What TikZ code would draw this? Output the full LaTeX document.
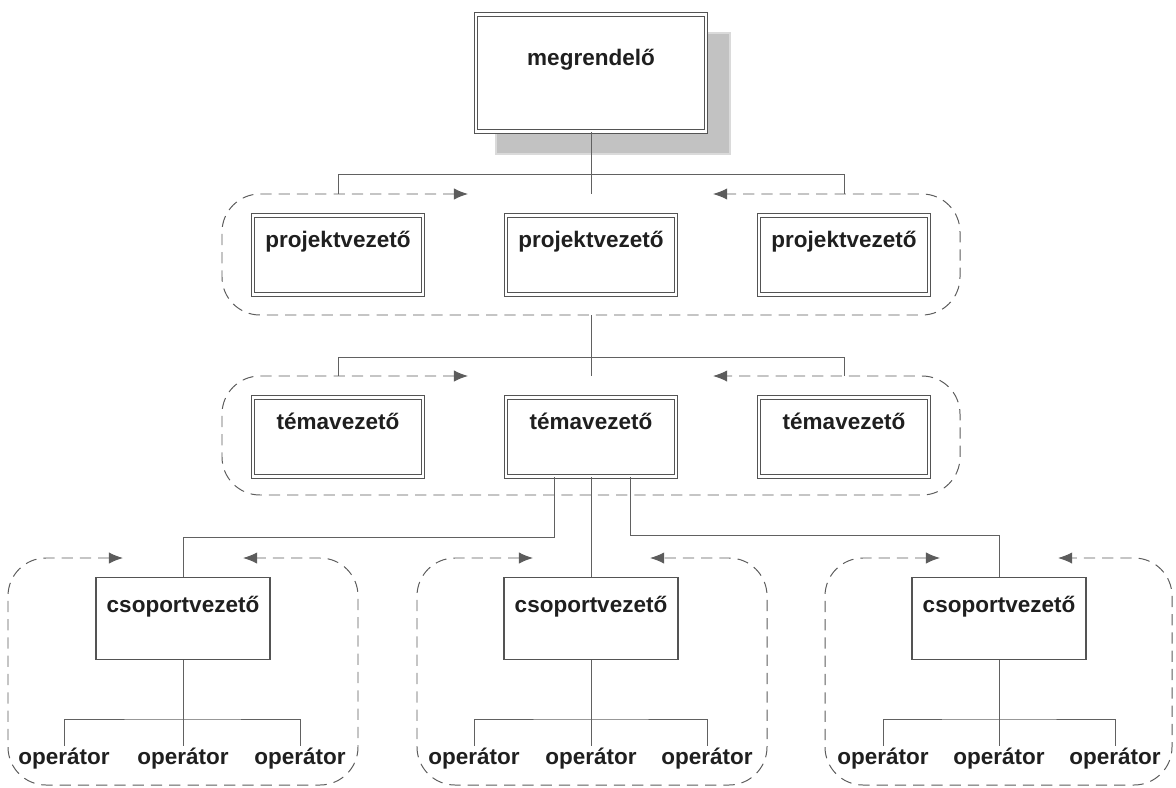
\documentclass[tikz,border=0pt]{standalone}
\usepackage{fontspec}
\setmainfont{Liberation Sans}
\usetikzlibrary{arrows.meta}
\definecolor{textcol}{rgb}{0.12,0.12,0.12}
\definecolor{linecol}{rgb}{0.33,0.33,0.33}
\definecolor{conncol}{rgb}{0.38,0.38,0.38}
\definecolor{dashcol}{rgb}{0.36,0.36,0.36}
\definecolor{shadowcol}{rgb}{0.76,0.76,0.76}

\begin{document}
\begin{tikzpicture}[x=0.025cm,y=-0.025cm,
	every node/.style={font=\fontsize{16}{19}\selectfont\bfseries,text=textcol},
	lapbox/.style={draw=linecol,fill=white,line width=0.7pt,double,double distance=1.6pt,inner sep=0pt,minimum width=4.25cm,text height=0.8cm,text depth=1.175cm,anchor=north},
	csopbox/.style={draw=linecol,fill=white,line width=0.8pt,inner sep=0pt,minimum width=4.35cm,text height=0.875cm,text depth=1.175cm,anchor=north},
	opnode/.style={anchor=north,inner sep=1pt},
	conn/.style={draw=conncol,line width=0.7pt},
	grp/.style={draw=dashcol,line width=0.7pt,dash pattern=on 8pt off 5pt,rounded corners=0.95cm,>={Latex[length=10pt,width=8pt]},<->}]
		\useasboundingbox (0,0) rectangle (1176,788);
			\fill[shadowcol!60] (495,32) rectangle (731,155);
			\fill[shadowcol] (497,34) rectangle (729,153);
			\node[lapbox,minimum width=5.75cm,text height=1.275cm,text depth=1.65cm] (megr) at (591,14) {megrendelő};

			\node[lapbox] (pv1) at (338,215) {projektvezető};
			\node[lapbox] (pv2) at (591,215) {projektvezető};
			\node[lapbox] (pv3) at (844,215) {projektvezető};

			\node[lapbox] (tv1) at (338,397) {témavezető};
			\node[lapbox] (tv2) at (591,397) {témavezető};
			\node[lapbox] (tv3) at (844,397) {témavezető};

			\node[csopbox] (cs1) at (183,577) {csoportvezető};
			\node[csopbox] (cs2) at (591,577) {csoportvezető};
			\node[csopbox] (cs3) at (999,577) {csoportvezető};

			\node[opnode] (op11) at (64,746) {operátor};
			\node[opnode] (op12) at (183,746) {operátor};
			\node[opnode] (op13) at (300,746) {operátor};
			\node[opnode] (op21) at (474,746) {operátor};
			\node[opnode] (op22) at (591,746) {operátor};
			\node[opnode] (op23) at (707,746) {operátor};
			\node[opnode] (op31) at (883,746) {operátor};
			\node[opnode] (op32) at (999,746) {operátor};
			\node[opnode] (op33) at (1115,746) {operátor};

			\coordinate (bus1) at (0,174);
			\coordinate (g1l) at (338,194);
			\coordinate (g1m) at (591,194);
			\coordinate (g1r) at (844,194);
			\coordinate (g1b) at (591,315);
			\coordinate (bus2) at (0,357);
			\coordinate (g2l) at (338,376);
			\coordinate (g2m) at (591,376);
			\coordinate (g2r) at (844,376);
			\coordinate (ob1) at (183,719);
			\coordinate (ob2) at (591,719);
			\coordinate (ob3) at (999,719);

			\draw[grp] (468,194) -- (222,194) -- (222,315) -- (960,315) -- (960,194) -- (713,194);
			\draw[grp] (468,376) -- (222,376) -- (222,495) -- (960,495) -- (960,376) -- (713,376);
			\draw[grp] (123,558) -- (8,558) -- (8,785) -- (358,785) -- (358,558) -- (243,558);
			\draw[grp] (533,558) -- (417,558) -- (417,785) -- (767,785) -- (767,558) -- (650,558);
			\draw[grp] (940,558) -- (825,558) -- (825,785) -- (1172,785) -- (1172,558) -- (1058,558);

			\draw[conn] (megr.south) -- (g1m);
			\draw[conn] (g1l) -- (g1l |- bus1) -- (g1r |- bus1) -- (g1r);
			\draw[conn] (g1b) -- (g2m);
			\draw[conn] (g2l) -- (g2l |- bus2) -- (g2r |- bus2) -- (g2r);

			\draw[conn] ([xshift=-0.925cm]tv2.south) -- ++(0,60) -| (cs1.north);
			\draw[conn] (tv2.south) -- (cs2.north);
			\draw[conn] ([xshift=0.975cm]tv2.south) -- ++(0,58) -| (cs3.north);

			\draw[conn] (cs1.south) -- (op12.north);
			\draw[conn] (op11.north) |- (ob1) -| (op13.north);
			\draw[conn] (cs2.south) -- (op22.north);
			\draw[conn] (op21.north) |- (ob2) -| (op23.north);
			\draw[conn] (cs3.south) -- (op32.north);
			\draw[conn] (op31.north) |- (ob3) -| (op33.north);
\end{tikzpicture}
\end{document}
